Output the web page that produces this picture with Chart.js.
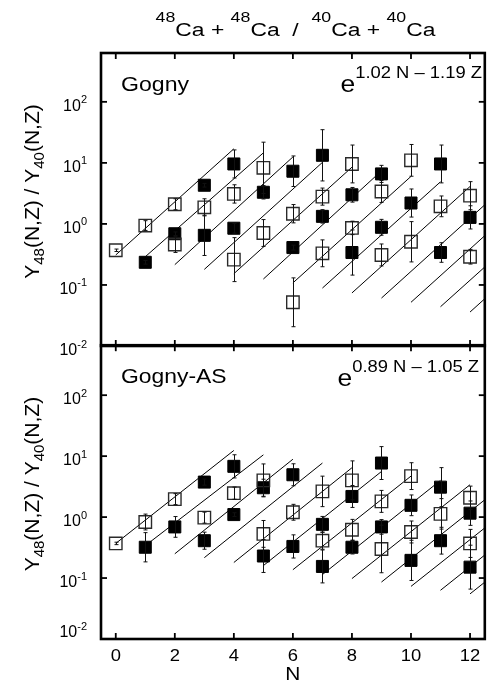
<!DOCTYPE html>
<html>
<head>
<meta charset="utf-8">
<script src="https://cdn.jsdelivr.net/npm/chart.js@4.4.1/dist/chart.umd.min.js"></script>
<style>
  body { margin: 0; background: #fff; overflow: hidden; }
  #wrap { position: relative; width: 488px; height: 681px; overflow: hidden; background: #fff; }
  canvas { position: absolute; left: 0; }
</style>
</head>
<body>
<div id="wrap">
  <canvas id="gogny" width="495" height="362" style="top:0"></canvas>
  <canvas id="gognyAS" width="495" height="346" style="top:335px"></canvas>
</div>
<script>
var FONT = '"Liberation Sans", Arial, Helvetica, sans-serif';

// ticks
var xTicks = [0, 2, 4, 6, 8, 10, 12];
var yTickExp = [-2, -1, 0, 1, 2];

// isoscaling lines: each starts at N and runs over lineSpanN units of N
var lineStartN = [0, 1, 2, 3, 4, 5, 6, 7, 8, 9, 10, 11, 12];
var lineSpanN = 4;

// Gogny panel
var gognyOpenN = [0, 1, 2, 2, 3, 4, 4, 5, 5, 6, 6, 7, 7, 8, 8, 9, 9, 10, 10, 11, 12, 12];
var gognyOpenR = [0.37, 0.94, 2.1, 0.46, 1.87, 3.1, 0.26, 8.3, 0.71, 1.47, 0.052, 2.8, 0.33, 9.6, 0.86, 3.4, 0.31, 11, 0.51, 1.94, 2.9, 0.29];
var gognyOpenErr = [0.02, 0.08, 0.09, 0.13, 0.14, 0.15, 0.36, 0.42, 0.22, 0.15, 0.40, 0.14, 0.22, 0.31, 0.11, 0.18, 0.18, 0.26, 0.33, 0.17, 0.23, 0.12]; // half bar, decades
var gognyFilledN = [1, 2, 3, 3, 4, 4, 5, 6, 6, 7, 7, 8, 8, 9, 9, 10, 11, 11, 12];
var gognyFilledR = [0.235, 0.69, 4.3, 0.65, 9.6, 0.85, 3.3, 7.3, 0.41, 13.3, 1.33, 3.0, 0.34, 6.6, 0.88, 2.2, 9.6, 0.34, 1.28];
var gognyFilledErr = [0.03, 0.03, 0.03, 0.33, 0.23, 0.08, 0.11, 0.25, 0.04, 0.42, 0.11, 0.12, 0.37, 0.14, 0.13, 0.23, 0.31, 0.16, 0.19];
var gognyLineStart = [0.31, 0.29, 0.215, 0.18, 0.153, 0.125, 0.108, 0.089, 0.074, 0.061, 0.052, 0.044, 0.036];
var gognyLineEnd = [17, 14.6, 12.5, 10.2, 8.5, 7.4, 6.0, 4.9, 4.1, 3.4, 2.9, 2.4, 2.0];

// Gogny-AS panel
var asOpenN = [0, 1, 2, 3, 4, 5, 5, 6, 7, 7, 8, 8, 9, 9, 10, 10, 11, 12, 12];
var asOpenR = [0.37, 0.83, 1.97, 0.98, 2.47, 4.0, 0.53, 1.2, 2.64, 0.41, 4.0, 0.62, 1.81, 0.30, 4.7, 0.57, 1.13, 2.08, 0.37];
var asOpenErr = [0.02, 0.13, 0.09, 0.09, 0.10, 0.27, 0.22, 0.13, 0.25, 0.14, 0.32, 0.17, 0.18, 0.39, 0.22, 0.18, 0.25, 0.19, 0.23];
var asFilledN = [1, 2, 3, 3, 4, 4, 5, 5, 6, 6, 7, 7, 8, 8, 9, 9, 10, 10, 11, 11, 12, 12];
var asFilledR = [0.32, 0.69, 3.75, 0.41, 6.8, 1.1, 3.03, 0.23, 4.95, 0.33, 0.76, 0.155, 2.18, 0.32, 7.7, 0.69, 1.56, 0.195, 3.1, 0.41, 1.16, 0.151];
var asFilledErr = [0.24, 0.17, 0.05, 0.14, 0.19, 0.03, 0.14, 0.27, 0.18, 0.19, 0.13, 0.27, 0.18, 0.11, 0.27, 0.12, 0.17, 0.33, 0.32, 0.22, 0.20, 0.36];
var asLineStart = [0.37, 0.34, 0.25, 0.216, 0.18, 0.16, 0.137, 0.114, 0.098, 0.086, 0.073, 0.063, 0.055];
var asLineEnd = [12.4, 10.5, 8.9, 7.7, 6.45, 5.6, 4.7, 4.0, 3.4, 3.0, 2.5, 2.2, 1.9];

// text with super/subscripts: parts = [[text, size, dy], ...]
function rich(ctx, parts, x, y, align, sx) {
  var w = 0;
  ctx.save();
  parts.forEach(function (p) { ctx.font = p[1] + 'px ' + FONT; w += ctx.measureText(p[0]).width; });
  ctx.translate(x, y);
  ctx.scale(sx || 1, 1);
  var cx = align === 'center' ? -w / 2 : (align === 'right' ? -w : 0);
  ctx.fillStyle = '#000';
  ctx.textAlign = 'left';
  ctx.textBaseline = 'alphabetic';
  parts.forEach(function (p) {
    ctx.font = p[1] + 'px ' + FONT;
    ctx.fillText(p[0], cx, p[2] || 0);
    cx += ctx.measureText(p[0]).width;
  });
  ctx.restore();
}

function seg(ctx, x1, y1, x2, y2) {
  ctx.beginPath(); ctx.moveTo(x1, y1); ctx.lineTo(x2, y2); ctx.stroke();
}

function panel(id, o) {
  var datasets = [{
    data: o.openN.map(function (n, i) { return { x: n, y: o.openR[i] }; }),
    pointStyle: 'rect', pointRadius: 8.8,
    backgroundColor: 'rgba(0,0,0,0)', borderColor: '#2a2a2a', borderWidth: 1.4,
    order: 0
  }, {
    data: o.filledN.map(function (n, i) { return { x: n, y: o.filledR[i] }; }),
    pointStyle: 'rect', pointRadius: 8.5,
    backgroundColor: '#000', borderColor: '#000', borderWidth: 1,
    order: 1
  }];
  lineStartN.forEach(function (n, i) {
    datasets.push({
      data: [{ x: n, y: o.lineStart[i] }, { x: n + lineSpanN, y: o.lineEnd[i] }],
      showLine: true, pointRadius: 0, borderColor: '#000', borderWidth: 1, order: 2
    });
  });

  var deco = {
    id: 'deco',
    afterDatasetsDraw: function (chart) {
      var ctx = chart.ctx, x = chart.scales.x, y = chart.scales.y;
      ctx.save();
      ctx.strokeStyle = '#111';
      ctx.lineWidth = 1;
      [[o.openN, o.openR, o.openErr], [o.filledN, o.filledR, o.filledErr]].forEach(function (g) {
        g[0].forEach(function (n, i) {
          var px = Math.round(x.getPixelForValue(n)) + 0.5;
          var f = Math.pow(10, g[2][i]);
          var lo = y.getPixelForValue(g[1][i] / f), hi = y.getPixelForValue(g[1][i] * f);
          seg(ctx, px, lo, px, hi);
          seg(ctx, px - 2, lo, px + 2, lo);
          seg(ctx, px - 2, hi, px + 2, hi);
        });
      });
      ctx.restore();
    },
    afterDraw: function (chart) {
      var ctx = chart.ctx, a = chart.chartArea, x = chart.scales.x, y = chart.scales.y;
      ctx.save();
      ctx.strokeStyle = '#000';
      ctx.lineWidth = 1.8;
      xTicks.forEach(function (n) {
        var px = x.getPixelForValue(n);
        seg(ctx, px, a.bottom, px, a.bottom - 6);
        seg(ctx, px, a.top, px, a.top + 6);
      });
      yTickExp.forEach(function (e) {
        var py = y.getPixelForValue(Math.pow(10, e));
        seg(ctx, a.left, py, a.left + 6, py);
        seg(ctx, a.right, py, a.right - 6, py);
        var base = py + 9;
        if (o.clampBottom) base = Math.min(base, a.bottom - 2);
        rich(ctx, [['10', 16, 0], [String(e), 11, -7.5]], 87, base, 'right', 1);
      });
      ctx.lineWidth = 2.6;
      ctx.strokeRect(a.left, a.top, a.right - a.left, a.bottom - a.top);

      // panel texts
      rich(ctx, [[o.name, 21, 0]], a.left + 20, a.top + o.nameDy, 'left', o.nameSx);
      rich(ctx, [['e', 23, 0], [o.expo, 16, -14]], o.expoX, a.top + o.expoDy, 'right', 1.15);

      // y title
      ctx.save();
      ctx.translate(38.5, (a.top + a.bottom) / 2 - 8);
      ctx.rotate(-Math.PI / 2);
      rich(ctx, [['Y', 21, 0], ['48', 15, 5], ['(N,Z) / Y', 21, 0], ['40', 15, 5], ['(N,Z)', 21, 0]], 0, 0, 'center', 1);
      ctx.restore();

      if (o.title) {
        rich(ctx, [['48', 14, -13.5], ['Ca + ', 18, 0], ['48', 14, -13.5], ['Ca  /  ', 18, 0],
                   ['40', 14, -13.5], ['Ca + ', 18, 0], ['40', 14, -13.5], ['Ca', 18, 0]],
             295.5, 35.5, 'center', 1.27);
      }
      if (o.xLabels) {
        xTicks.forEach(function (n) {
          rich(ctx, [[String(n), 16, 0]], x.getPixelForValue(n), a.bottom + 22, 'center', 1.15);
        });
        rich(ctx, [['N', 19, 0]], (a.left + a.right) / 2, a.bottom + 41, 'center', 1.1);
      }
      ctx.restore();
    }
  };

  return new Chart(document.getElementById(id), {
    type: 'scatter',
    data: { datasets: datasets },
    options: {
      responsive: false,
      animation: false,
      devicePixelRatio: 1,
      events: [],
      layout: { padding: o.padding },
      plugins: { legend: { display: false }, tooltip: { enabled: false } },
      scales: {
        x: { type: 'linear', min: -0.5, max: 12.5, display: false },
        y: { type: 'logarithmic', min: 0.01, max: o.yMax, display: false }
      }
    },
    plugins: [deco]
  });
}

panel('gogny', {
  openN: gognyOpenN, openR: gognyOpenR, openErr: gognyOpenErr,
  filledN: gognyFilledN, filledR: gognyFilledR, filledErr: gognyFilledErr,
  lineStart: gognyLineStart, lineEnd: gognyLineEnd,
  yMax: Math.pow(10, 2.8),
  padding: { left: 101, right: 4, top: 53, bottom: 16 },
  name: 'Gogny', nameDy: 37.5, nameSx: 1.1,
  expo: '1.02 N \u2013 1.19 Z', expoX: 482, expoDy: 39,
  title: true, xLabels: false, clampBottom: false
});

panel('gognyAS', {
  openN: asOpenN, openR: asOpenR, openErr: asOpenErr,
  filledN: asFilledN, filledR: asFilledR, filledErr: asFilledErr,
  lineStart: asLineStart, lineEnd: asLineEnd,
  yMax: Math.pow(10, 2.82),
  padding: { left: 101, right: 4, top: 10, bottom: 42 },
  name: 'Gogny-AS', nameDy: 38, nameSx: 1.09,
  expo: '0.89 N \u2013 1.05 Z', expoX: 479, expoDy: 41,
  title: false, xLabels: true, clampBottom: true
});
</script>
</body>
</html>
